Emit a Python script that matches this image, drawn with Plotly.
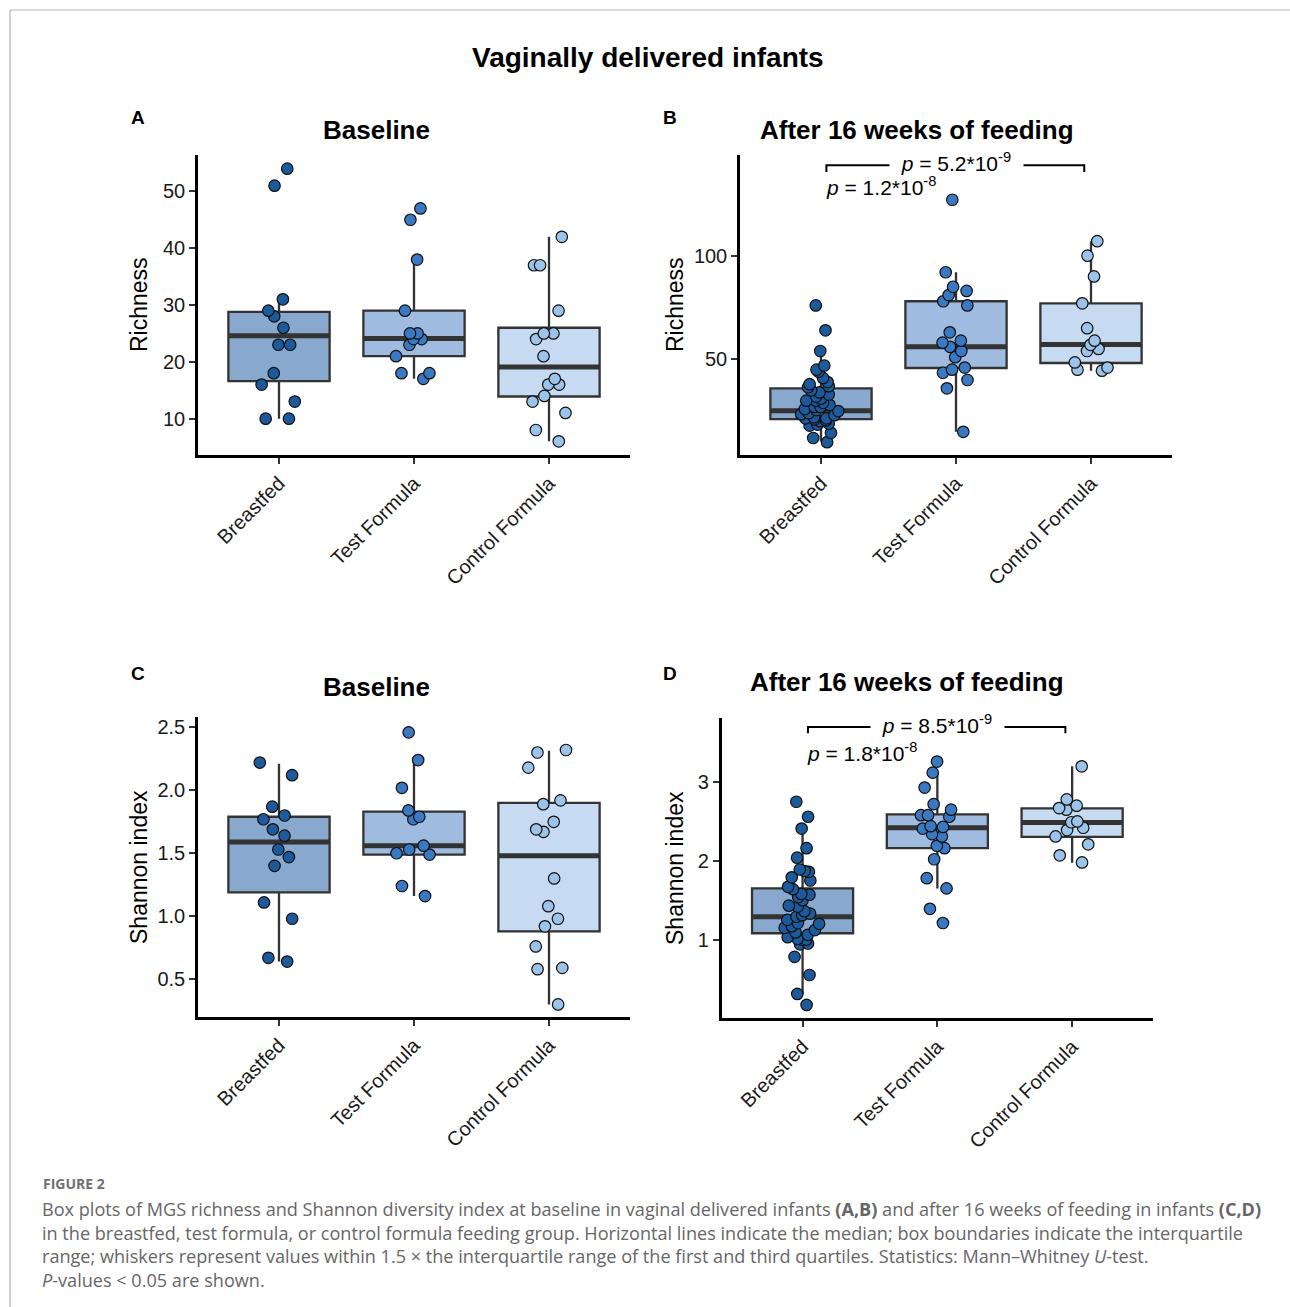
import plotly.graph_objects as go

W, H = 1290, 1307

categories = ["Breastfed", "Test Formula", "Control Formula"]
cat_pos = [1, 2, 3]

# ---- Panel A: Richness at baseline ----
A_breastfed = [54, 51, 31, 29, 28, 26, 23, 23, 18, 16, 13, 10, 10]
A_test = [47, 45, 38, 29, 25, 25, 24, 24, 23, 21, 18, 18, 17]
A_control = [42, 37, 37, 29, 25, 25, 24, 21, 17, 16, 16, 14, 13, 11, 8, 6]
A_q1 = [16.6, 21.0, 13.9]
A_median = [24.6, 24.1, 19.1]
A_q3 = [28.8, 29.0, 26.0]
A_lower = [10, 17, 6]
A_upper = [31, 38, 42]

# ---- Panel B: Richness after 16 weeks ----
B_breastfed = [76, 64, 54, 47, 45, 44, 41, 39, 38, 37, 36.5, 35, 34, 33, 32, 31, 30, 30,
               29, 28, 27, 27, 26, 25.5, 25, 24, 23.5, 23, 22, 21.5, 21.5, 21, 20.5, 20,
               19, 18.5, 18, 14.5, 12, 10]
B_test = [127, 92, 85, 83, 81, 78, 76, 63, 59, 58, 56, 54, 51, 46, 45, 43.5, 40, 36, 15]
B_control = [107, 100, 90, 77, 65, 59, 57, 55, 54, 48.5, 46, 45, 44.5]
B_q1 = [21.1, 45.8, 48.2]
B_median = [25.1, 56.1, 57.1]
B_q3 = [36.0, 78.0, 77.0]
B_lower = [10.3, 15, 44.5]
B_upper = [54, 92, 107]

# ---- Panel C: Shannon at baseline ----
C_breastfed = [2.22, 2.12, 1.87, 1.80, 1.77, 1.69, 1.64, 1.53, 1.47, 1.40, 1.11, 0.98, 0.67, 0.64]
C_test = [2.46, 2.24, 2.02, 1.84, 1.79, 1.77, 1.56, 1.53, 1.50, 1.49, 1.24, 1.16]
C_control = [2.32, 2.30, 2.18, 1.92, 1.89, 1.75, 1.69, 1.67, 1.30, 1.08, 0.98, 0.92,
             0.76, 0.59, 0.58, 0.30]
C_q1 = [1.19, 1.49, 0.88]
C_median = [1.59, 1.56, 1.48]
C_q3 = [1.79, 1.83, 1.90]
C_lower = [0.64, 1.16, 0.30]
C_upper = [2.21, 2.235, 2.315]

# ---- Panel D: Shannon after 16 weeks ----
D_breastfed = [2.75, 2.56, 2.41, 2.16, 2.04, 1.89, 1.87, 1.86, 1.79, 1.75, 1.67, 1.64, 1.58,
               1.57, 1.54, 1.50, 1.43, 1.42, 1.36, 1.33, 1.31, 1.29, 1.25, 1.21, 1.20, 1.17,
               1.15, 1.12, 1.09, 1.06, 1.03, 1.01, 1.00, 1.00, 0.95, 0.94, 0.78, 0.55, 0.31, 0.17]
D_test = [3.26, 3.12, 2.93, 2.72, 2.65, 2.58, 2.58, 2.56, 2.44, 2.43, 2.41, 2.34, 2.31,
          2.19, 2.16, 2.02, 1.78, 1.65, 1.39, 1.21]
D_control = [3.20, 2.78, 2.70, 2.67, 2.65, 2.50, 2.49, 2.42, 2.39, 2.31, 2.21, 2.07, 1.98]
D_q1 = [1.08, 2.16, 2.305]
D_median = [1.29, 2.42, 2.487]
D_q3 = [1.65, 2.59, 2.665]
D_lower = [0.31, 1.65, 1.975]
D_upper = [2.41, 3.10, 3.20]

# p-value annotations
B_p_outer = "<i>p</i> = 5.2*10<sup>-9</sup>"
B_p_inner = "<i>p</i> = 1.2*10<sup>-8</sup>"
D_p_outer = "<i>p</i> = 8.5*10<sup>-9</sup>"
D_p_inner = "<i>p</i> = 1.8*10<sup>-8</sup>"

point_colors = ["#1d5a9c", "#3b78c2", "#9cc4ea"]
box_fills = ["#88a9cd", "#9fbbdf", "#c6dbf1"]
FONT = "Liberation Sans, Arial, sans-serif"

def px_x(p):
    return p / W

def px_y(p):
    return 1 - p / H

panels = [
    dict(ax="", pts=[A_breastfed, A_test, A_control], q1=A_q1, med=A_median, q3=A_q3,
         lo=A_lower, hi=A_upper, xdom=(198, 630), ydom=(155, 455), yr=[3.6, 56.4],
         tv=[10, 20, 30, 40, 50], fmt=None),
    dict(ax="2", pts=[B_breastfed, B_test, B_control], q1=B_q1, med=B_median, q3=B_q3,
         lo=B_lower, hi=B_upper, xdom=(740, 1172), ydom=(155, 455), yr=[3.8, 148.6],
         tv=[50, 100], fmt=None),
    dict(ax="3", pts=[C_breastfed, C_test, C_control], q1=C_q1, med=C_median, q3=C_q3,
         lo=C_lower, hi=C_upper, xdom=(198, 630), ydom=(717, 1017), yr=[0.2, 2.582],
         tv=[0.5, 1.0, 1.5, 2.0, 2.5], fmt=".1f"),
    dict(ax="4", pts=[D_breastfed, D_test, D_control], q1=D_q1, med=D_median, q3=D_q3,
         lo=D_lower, hi=D_upper, xdom=(721.7, 1153), ydom=(718.3, 1018.3), yr=[0.0, 3.81],
         tv=[1, 2, 3], fmt=None),
]

fig = go.Figure()
layout_axes = {}

for p in panels:
    xa, ya = "x" + p["ax"], "y" + p["ax"]
    # boxes
    for i in range(3):
        fig.add_trace(go.Box(
            x=[cat_pos[i]], q1=[p["q1"][i]], median=[p["med"][i]], q3=[p["q3"][i]],
            lowerfence=[p["lo"][i]], upperfence=[p["hi"][i]],
            width=0.75, fillcolor=box_fills[i], boxpoints=False,
            line=dict(color="#333333", width=2.3), whiskerwidth=0,
            xaxis=xa, yaxis=ya, showlegend=False, hoverinfo="skip"))
    # thick median lines (zero-height boxes)
    for i in range(3):
        m = p["med"][i]
        fig.add_trace(go.Box(
            x=[cat_pos[i]], q1=[m], median=[m], q3=[m], lowerfence=[m], upperfence=[m],
            width=0.75, fillcolor="rgba(0,0,0,0)", boxpoints=False,
            line=dict(color="#333333", width=5), whiskerwidth=0,
            xaxis=xa, yaxis=ya, showlegend=False, hoverinfo="skip"))
    # jittered points
    for i in range(3):
        vals = p["pts"][i]
        fig.add_trace(go.Box(
            y=vals, x=[cat_pos[i]] * len(vals), width=0.75,
            boxpoints="all", jitter=0.42, pointpos=0,
            fillcolor="rgba(0,0,0,0)", line=dict(color="rgba(0,0,0,0)", width=0),
            marker=dict(color=point_colors[i], size=11.5,
                        line=dict(color="#111111", width=1.2)),
            xaxis=xa, yaxis=ya, showlegend=False, hoverinfo="skip"))

    xkey = "xaxis" + p["ax"]
    ykey = "yaxis" + p["ax"]
    layout_axes[xkey] = dict(
        domain=[px_x(p["xdom"][0]), px_x(p["xdom"][1])], anchor=ya,
        range=[0.4, 3.6], tickvals=cat_pos, ticktext=categories, tickangle=-45,
        showline=True, linecolor="black", linewidth=2.5, ticks="outside",
        ticklen=6, tickwidth=2, tickcolor="#333333", showgrid=False, zeroline=False,
        tickfont=dict(family=FONT, size=20, color="#1a1a1a"), fixedrange=True)
    yd = dict(
        domain=[px_y(p["ydom"][1]), px_y(p["ydom"][0])], anchor=xa,
        range=p["yr"], tickvals=p["tv"],
        showline=True, linecolor="black", linewidth=2.5, ticks="outside",
        ticklen=6, tickwidth=2, tickcolor="#333333", showgrid=False, zeroline=False,
        tickfont=dict(family=FONT, size=20, color="#1a1a1a"), fixedrange=True)
    if p["fmt"]:
        yd["tickformat"] = p["fmt"]
    layout_axes[ykey] = yd

annotations = []

def paper_text(text, x, y, size, bold=False, angle=0, color="black", xanchor="center"):
    annotations.append(dict(
        text=("<b>%s</b>" % text) if bold else text, x=px_x(x), y=px_y(y),
        xref="paper", yref="paper", showarrow=False, textangle=angle,
        xanchor=xanchor, yanchor="middle",
        font=dict(family=FONT, size=size, color=color)))

paper_text("Vaginally delivered infants", 648, 57, 28, bold=True)
paper_text("Baseline", 377, 130, 26, bold=True)
paper_text("After 16 weeks of feeding", 917, 130, 26, bold=True)
paper_text("Baseline", 377, 687, 26, bold=True)
paper_text("After 16 weeks of feeding", 907, 682, 26, bold=True)
for letter, (lx, ly) in zip("ABCD", [(138, 118), (670, 118), (138, 673), (670, 673)]):
    paper_text(letter, lx, ly, 19, bold=True)
paper_text("Richness", 139, 305, 23, angle=-90)
paper_text("Richness", 675, 305, 23, angle=-90)
paper_text("Shannon index", 139, 867, 23, angle=-90)
paper_text("Shannon index", 675, 868, 23, angle=-90)

# significance brackets
shapes = []
brackets = [
    dict(ax="2", x0=1.04, x1=2.95, ytop=143.7, ytip=140.4, outer=B_p_outer,
         inner=B_p_inner, inner_y=133.4),
    dict(ax="4", x0=1.04, x1=2.95, ytop=3.70, ytip=3.62, outer=D_p_outer,
         inner=D_p_inner, inner_y=3.38),
]
for b in brackets:
    xr, yr = "x" + b["ax"], "y" + b["ax"]
    shapes.append(dict(
        type="path", xref=xr, yref=yr,
        path="M %g,%g L %g,%g L %g,%g L %g,%g" % (b["x0"], b["ytip"], b["x0"], b["ytop"],
                                                   b["x1"], b["ytop"], b["x1"], b["ytip"]),
        line=dict(color="black", width=2), layer="above"))
    annotations.append(dict(
        text="&nbsp;&nbsp;" + b["outer"] + "&nbsp;&nbsp;", x=2, y=b["ytop"],
        xref=xr, yref=yr, showarrow=False, yshift=3,
        xanchor="center", yanchor="middle", bgcolor="white", borderpad=0,
        font=dict(family=FONT, size=21, color="black")))
    annotations.append(dict(
        text=b["inner"], x=b["x0"] - 0.02, y=b["inner_y"], xref=xr, yref=yr,
        showarrow=False, xanchor="left", yanchor="middle",
        font=dict(family=FONT, size=21, color="black")))

# frame lines
shapes.append(dict(type="line", xref="paper", yref="paper", x0=px_x(10), x1=1,
                   y0=px_y(10), y1=px_y(10), line=dict(color="#b3b3b3", width=1.2)))
shapes.append(dict(type="line", xref="paper", yref="paper", x0=px_x(10), x1=px_x(10),
                   y0=px_y(10), y1=0, line=dict(color="#b3b3b3", width=1.2)))

# caption
CAP_FONT = "Open Sans, Lato, sans-serif"
caption_lines = [
    "Box plots of MGS richness and Shannon diversity index at baseline in vaginal delivered infants "
    "<b>(A,B)</b> and after 16 weeks of feeding in infants <b>(C,D)</b>",
    "in the breastfed, test formula, or control formula feeding group. Horizontal lines indicate the "
    "median; box boundaries indicate the interquartile",
    "range; whiskers represent values within 1.5 × the interquartile range of the first and third "
    "quartiles. Statistics: Mann–Whitney <i>U</i>-test.",
    "<i>P</i>-values &lt; 0.05 are shown.",
]
annotations.append(dict(text="<b>FIGURE 2</b>", x=px_x(41), y=px_y(1183), xref="paper",
                        yref="paper", showarrow=False, xanchor="left", yanchor="middle",
                        font=dict(family=CAP_FONT, size=14, color="#707070")))
for k, line in enumerate(caption_lines):
    annotations.append(dict(text=line, x=px_x(40), y=px_y(1209 + 23.7 * k), xref="paper",
                            yref="paper", showarrow=False, xanchor="left", yanchor="middle",
                            font=dict(family=CAP_FONT, size=18.1, color="#666666")))

fig.update_layout(
    width=W, height=H, margin=dict(l=0, r=0, t=0, b=0),
    paper_bgcolor="white", plot_bgcolor="white", boxmode="overlay",
    showlegend=False, annotations=annotations, shapes=shapes, **layout_axes)

fig.write_html("out.html", config={"displayModeBar": False},
               post_script="document.body.style.margin='0';document.body.style.overflow='hidden';")
